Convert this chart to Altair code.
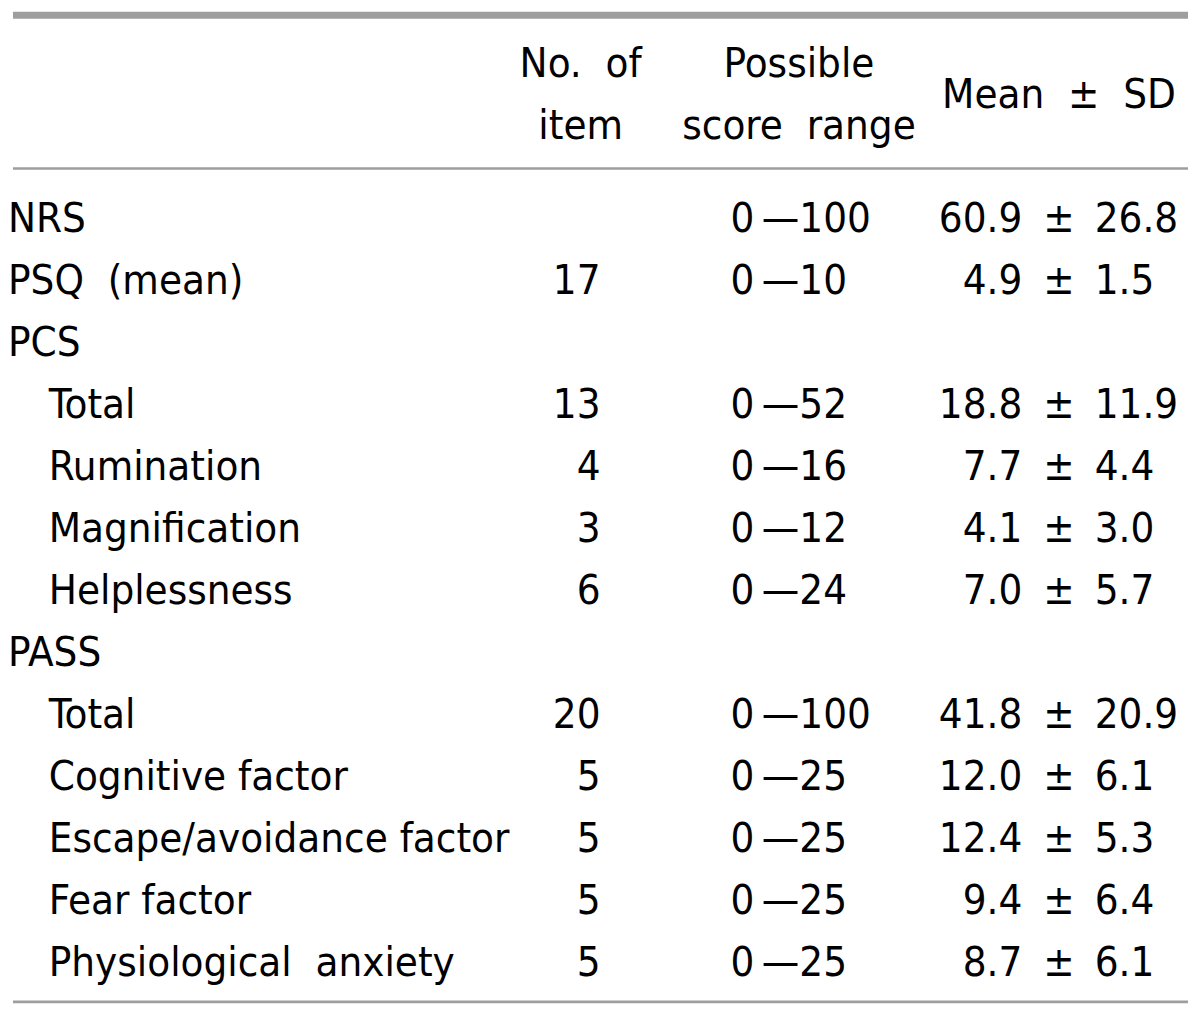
import altair as alt
import pandas as pd

# ---- table content ----
labels = ["NRS", "PSQ\u00a0 (mean)", "PCS", "Total", "Rumination", "Magnification",
          "Helplessness", "PASS", "Total", "Cognitive factor",
          "Escape/avoidance factor", "Fear factor", "Physiological\u00a0 anxiety"]
indent = [0, 0, 0, 1, 1, 1, 1, 0, 1, 1, 1, 1, 1]
n_items = ["", "17", "", "13", "4", "3", "6", "", "20", "5", "5", "5", "5"]
score_ranges = ["0\u2009\u2014100", "0\u2009\u201410", "", "0\u2009\u201452", "0\u2009\u201416",
                "0\u2009\u201412", "0\u2009\u201424", "", "0\u2009\u2014100", "0\u2009\u201425",
                "0\u2009\u201425", "0\u2009\u201425", "0\u2009\u201425"]
means = ["60.9", "4.9", "", "18.8", "7.7", "4.1", "7.0", "", "41.8", "12.0", "12.4", "9.4", "8.7"]
sds = ["26.8", "1.5", "", "11.9", "4.4", "3.0", "5.7", "", "20.9", "6.1", "5.3", "6.4", "6.1"]
header_col1 = ["No.\u00a0 of", "item"]
header_col2 = ["Possible", "score\u00a0 range"]
header_col3 = "Mean\u00a0 \u00b1\u00a0 SD"

# ---- layout (style) ----
FONT = "'DejaVu Sans Condensed', 'Liberation Sans Narrow', sans-serif"
FS = 42
X_LABEL = [3, 44]
X_ITEM = 600
X_RANGE = 731
X_MEAN = 1025
X_PM = 1062
X_SD = 1098
X_H1 = 580
X_H2 = 800
X_H3 = 1062
RULE_COLOR = "#9e9e9e"

left, right, center = [], [], []
for i, lab in enumerate(labels):
    left.append({"t": lab, "x": X_LABEL[indent[i]], "v": i})
    if n_items[i]:
        right.append({"t": n_items[i], "x": X_ITEM, "v": i})
    if score_ranges[i]:
        left.append({"t": score_ranges[i], "x": X_RANGE, "v": i})
    if means[i]:
        right.append({"t": means[i], "x": X_MEAN, "v": i})
        center.append({"t": "\u00b1", "x": X_PM, "v": i})
        left.append({"t": sds[i], "x": X_SD, "v": i})
for k, (a, b) in enumerate(zip(header_col1, header_col2)):
    center.append({"t": a, "x": X_H1, "v": -2.5 + k})
    center.append({"t": b, "x": X_H2, "v": -2.5 + k})
center.append({"t": header_col3, "x": X_H3, "v": -2.0})

rules = pd.DataFrame([
    {"v": -3.496, "x": 8, "x2": 1192, "w": 7},
    {"v": -1.024, "x": 8, "x2": 1192, "w": 2.5},
    {"v": 12.41, "x": 8, "x2": 1192, "w": 3},
])

xs = alt.Scale(domain=[8, 1192], range=[0, 1184], nice=False, zero=False)
ys = alt.Scale(domain=[-3.504, 12.432], reverse=True, nice=False, zero=False)
X = alt.X("x:Q", scale=xs, axis=None)
Y = alt.Y("v:Q", scale=ys, axis=None)

rule_layer = alt.Chart(rules).mark_rule(color=RULE_COLOR).encode(
    x=X, x2="x2:Q", y=Y, size=alt.Size("w:Q", scale=None, legend=None)
)


def text_layer(rows, align):
    return alt.Chart(pd.DataFrame(rows)).mark_text(
        align=align, baseline="alphabetic", font=FONT, fontSize=FS, color="#000000"
    ).encode(x=X, y=Y, text="t:N")


chart = alt.layer(
    rule_layer,
    text_layer(left, "left"),
    text_layer(right, "right"),
    text_layer(center, "center"),
).properties(width=1184, height=996, padding=0, background="white").configure_view(stroke=None)

chart.save("out.html", embed_options={"renderer": "svg", "actions": False})
